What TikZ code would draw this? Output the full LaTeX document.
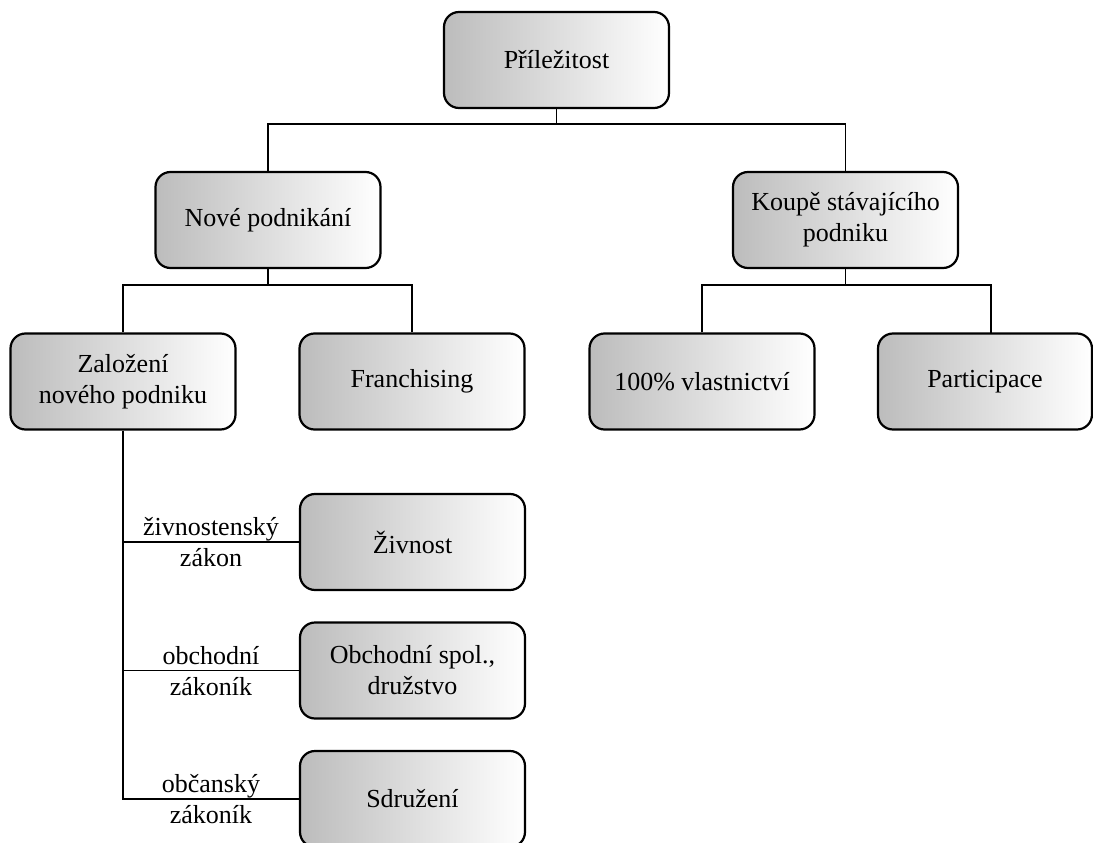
\documentclass[tikz,border=0pt]{standalone}
\usepackage{fontspec}
\setmainfont{Liberation Serif}
\begin{document}
\begin{tikzpicture}[x=1pt,y=-1pt,
  box/.style={draw, line width=2.2pt, rounded corners=15pt,
    left color={rgb,255:red,188;green,188;blue,188}, right color=white,
    shading angle=90, inner sep=0pt, align=center,
    minimum width=225pt, minimum height=96pt,
    font=\fontsize{26}{31}\selectfont},
  conn/.style={line width=1.8pt},
  lbl/.style={align=center, inner sep=0pt, font=\fontsize{26}{31}\selectfont}]
\useasboundingbox (0,0) rectangle (1093,843);
\node[box] (top) at (556.5,60) {Příležitost};
\node[box] (nove) at (268,220) {Nové podnikání};
\node[box] (koupe) at (845.5,220) {Koupě stávajícího\\podniku};
\node[box] (zal) at (123,381.5) {Založení\\nového podniku};
\node[box] (fran) at (412,381.5) {Franchising};
\node[box] (pct) at (702,381.5) {100\% vlastnictví};
\node[box, minimum width=214pt] (part) at (985,381.5) {Participace};
\node[box] (ziv) at (412.5,542) {Živnost};
\node[box] (obch) at (412.5,670.5) {Obchodní spol.,\\družstvo};
\node[box] (sdr) at (412.5,799) {Sdružení};
\coordinate (j1) at (556.5,124);
\coordinate (j2) at (268,285);
\coordinate (j3) at (845.5,285);
\coordinate (pin) at (991,333);
\draw[conn] (top.south) -- (j1);
\draw[conn] (nove.north) |- (j1) -| (koupe.north);
\draw[conn] (nove.south) -- (j2);
\draw[conn] (zal.north) |- (j2) -| (fran.north);
\draw[conn] (koupe.south) -- (j3);
\draw[conn] (pct.north) |- (j3) -| (pin);
\draw[conn] (zal.south) |- (sdr.west);
\draw[conn] (zal.south |- ziv.west) -- (ziv.west);
\draw[conn] (zal.south |- obch.west) -- (obch.west);
\node[lbl] (l1) at (211,542.5) {živnostenský\\zákon};
\node[lbl] (l2) at (211,671) {obchodní\\zákoník};
\node[lbl] (l3) at (211,799) {občanský\\zákoník};
\end{tikzpicture}
\end{document}
